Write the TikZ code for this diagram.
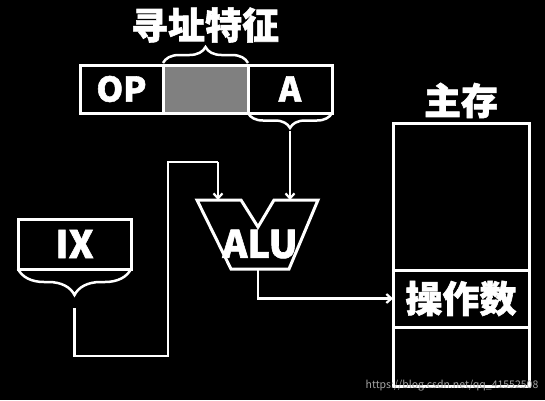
\documentclass[tikz,border=0pt]{standalone}
\usepackage{fontspec}
\newfontfamily\cjk{Noto Sans CJK SC}[BoldFeatures={FakeBold=1.6}]
\usepackage{tikz}
\usetikzlibrary{positioning,arrows.meta,decorations.pathreplacing}

\begin{document}
\begin{tikzpicture}[
        x=1pt, y=-1pt,
        node distance=0pt,
        line width=3pt,
        cell/.style={rectangle, draw=white, outer sep=0pt, minimum height=48pt, font=\cjk\bfseries\fontsize{34}{36}\selectfont, text=white},
        memcell/.style={rectangle, draw=white, outer sep=0pt, minimum width=136pt, font=\cjk\bfseries\fontsize{37}{39}\selectfont, text=white},
        title/.style={font=\cjk\bfseries\fontsize{37}{39}\selectfont, text=white},
        brace/.style={draw=white, line width=2.5pt, decorate, decoration={brace, amplitude=#1}},
        link/.style={draw=white, line width=2.2pt, -{Straight Barb[length=5pt, width=9pt]}},
        wire/.style={draw=white, line width=2.2pt},
        ]

        % Background
        \fill[black] (0,0) rectangle (545,400);
        \useasboundingbox (0,0) rectangle (545,400);

        % Instruction word
        \node[cell, minimum width=83pt] (op) at (121.5,89) {OP};
        \node[cell, minimum width=85pt, fill=gray, right=of op] (mode) {};
        \node[cell, minimum width=84pt, right=of mode] (addr) {A};

        \draw[brace=16pt] ([yshift=2pt]mode.north west) -- ([yshift=2pt]mode.north east);
        \node[title] (feature) at (205,25) {寻址特征};

        \draw[brace=15pt, decoration={mirror}] (addr.south west) -- (addr.south east);
        \coordinate (atip) at ([yshift=-16pt]addr.south);

        % Index register
        \node[cell, minimum width=113pt, minimum height=50pt, font=\cjk\bfseries\fontsize{38}{40}\selectfont] (ix) at (74.5,244) {IX};
        \draw[brace=26pt, decoration={mirror}] (ix.south west) -- (ix.south east);
        \coordinate (ixout) at ([yshift=-39pt]ix.south);

        % ALU
        \coordinate (alul) at (218,200);
        \coordinate (alur) at (290,200);
        \coordinate (alub) at (258,269);
        \draw[white, line join=miter] (197,200) -- (241,200) -- (258,227) -- (274,200) -- (318,200)
            -- (289,269) -- (231,269) -- cycle;
        \node[title, font=\cjk\bfseries\fontsize{38}{40}\selectfont] (alu) at (260,244) {ALU};

        % Main memory
        \node[memcell, minimum height=147pt] (memtop) at (461,196.5) {};
        \node[memcell, minimum height=57pt, below=of memtop] (operand) {操作数};
        \node[memcell, minimum height=59pt, below=of operand] (membot) {};
        \node[title, above=0pt of memtop] (mem) {主存};

        % Data flow
        \coordinate (turnb) at (168,356);
        \coordinate (turnt) at (218,162);
        \draw[wire] (ixout) |- (turnb) |- (turnt);
        \draw[link] (turnt) -- (alul);
        \draw[link] ([yshift=-2pt]atip) -- (alur);
        \draw[link] (alub) |- (operand.west);

        % Watermark
        \node[font=\cjk\fontsize{10.5}{12}\selectfont, text=gray!70] (mark) at (452,386) {https://blog.csdn.net/qq\_41552508};

\end{tikzpicture}
\end{document}
